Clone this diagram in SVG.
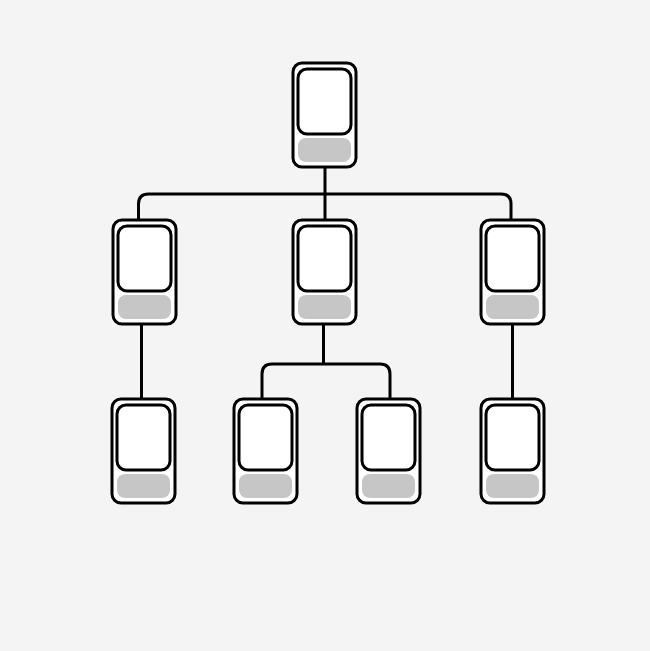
<svg xmlns="http://www.w3.org/2000/svg" width="650" height="651" viewBox="0 0 650 651">
<defs>
<style>
.outer{fill:#ffffff;stroke:#000;stroke-width:3}
.screen{fill:#ffffff;stroke:#000;stroke-width:3}
.bar{fill:#c6c6c6;stroke:none}
.conn{fill:none;stroke:#000;stroke-width:3}
</style>
<g id="device">
<rect class="outer" x="0" y="0" width="63" height="104" rx="9"/>
<rect class="screen" x="5" y="6" width="53" height="65" rx="9"/>
<rect class="bar" x="5" y="75" width="53" height="24" rx="8"/>
</g>
</defs>
<rect x="0" y="0" width="650" height="651" fill="#f4f4f4"/>
<g id="connectors">
<path class="conn" d="M325 167 V220"/>
<path class="conn" d="M138.5 220 V204 Q138.5 194 148.5 194 H501 Q511 194 511 204 V220"/>
<path class="conn" d="M141.5 323 V399"/>
<path class="conn" d="M323.5 323 V364"/>
<path class="conn" d="M262 399 V374 Q262 364 272 364 H380 Q390 364 390 374 V399"/>
<path class="conn" d="M512.5 323 V399"/>
</g>
<g id="node-root"><use href="#device" x="293" y="63"/></g>
<g id="node-mid-left"><use href="#device" x="113" y="220"/></g>
<g id="node-mid-center"><use href="#device" x="293" y="220"/></g>
<g id="node-mid-right"><use href="#device" x="481" y="220"/></g>
<g id="node-bottom-1"><use href="#device" x="112" y="399"/></g>
<g id="node-bottom-2"><use href="#device" x="234" y="399"/></g>
<g id="node-bottom-3"><use href="#device" x="357" y="399"/></g>
<g id="node-bottom-4"><use href="#device" x="481" y="399"/></g>
</svg>
